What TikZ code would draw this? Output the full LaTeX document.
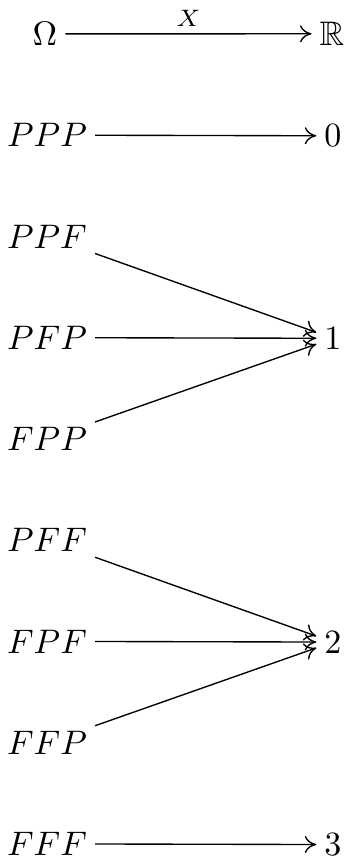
\documentclass[tikz,border=0pt]{standalone}
\usepackage{amssymb}
\usetikzlibrary{arrows.meta}
\begin{document}
\begin{tikzpicture}[x=0.294pt,y=-0.294pt,
  cell/.style={inner xsep=2.2pt,inner ysep=2pt,anchor=base},
  map/.style={-{Computer Modern Rightarrow[length=3.4pt,width=5pt]},line width=0.4pt}]
\useasboundingbox (0,0) rectangle (347,859);
% rows: axis y = 37 + k*101.25, baseline = axis + 8.5
\node[cell] (om) at (45,45.5) {$\Omega$};
\node[cell] (R) at (332,45.5) {$\mathbb{R}$};
\node[cell] (ppp) at (47,146.75) {$PPP$};
\node[cell] (n0) at (333,146.75) {$0$};
\node[cell] (ppf) at (47,248) {$PPF$};
\node[cell] (pfp) at (47,349.25) {$PFP$};
\node[cell] (fpp) at (47,450.5) {$FPP$};
\node[cell] (n1) at (333,349.25) {$1$};
\node[cell] (pff) at (47,551.75) {$PFF$};
\node[cell] (fpf) at (47,653) {$FPF$};
\node[cell] (ffp) at (47,754.25) {$FFP$};
\node[cell] (n2) at (333,653) {$2$};
\node[cell] (fff) at (47,855.5) {$FFF$};
\node[cell] (n3) at (333,855.5) {$3$};
\draw[map] (om) -- node[above,inner sep=2pt] {$\scriptstyle X$} (R);
\draw[map] (ppp) -- (n0);
\draw[map] (ppf) -- (n1);
\draw[map] (pfp) -- (n1);
\draw[map] (fpp) -- (n1);
\draw[map] (pff) -- (n2);
\draw[map] (fpf) -- (n2);
\draw[map] (ffp) -- (n2);
\draw[map] (fff) -- (n3);
\end{tikzpicture}
\end{document}
